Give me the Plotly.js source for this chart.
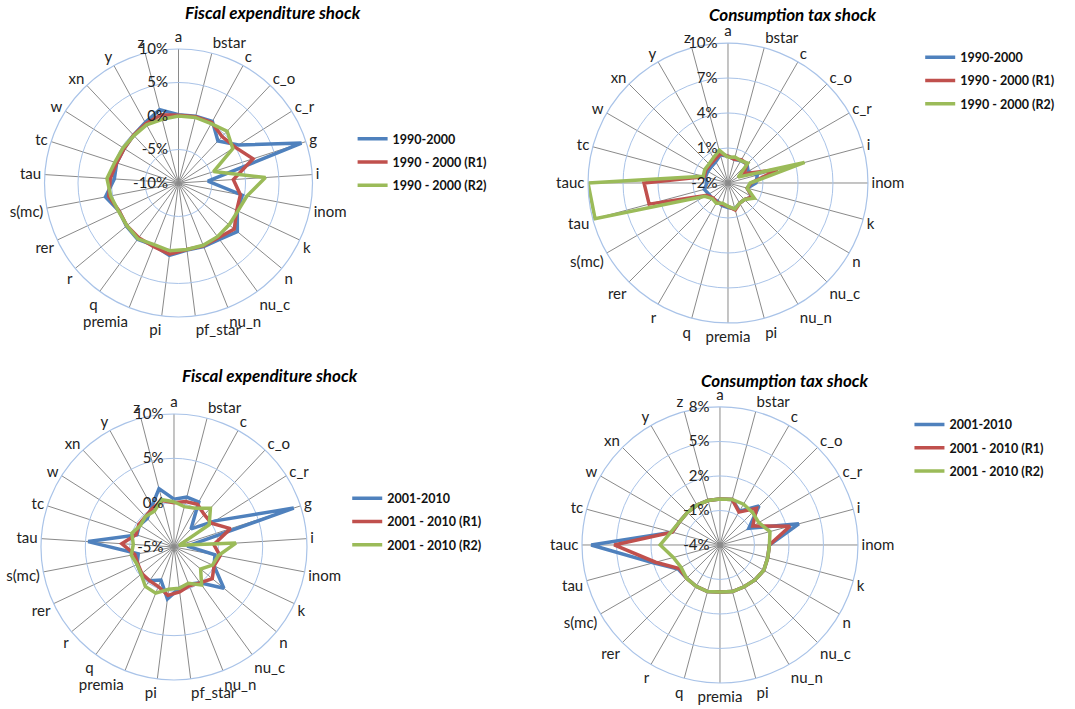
<!DOCTYPE html>
<html><head><meta charset="utf-8">
<script src="https://cdn.plot.ly/plotly-3.0.1.min.js"></script>
<style>html,body{margin:0;padding:0;background:#fff}#chart{width:1075px;height:709px}</style>
</head><body><div id="chart"></div>
<script>
// Fiscal expenditure shock categories (25)
const catsFiscal = ["a","bstar","c","c_o","c_r","g","i","inom","k","n","nu_c","nu_n","pf_star","pi","premia","q","r","rer","s(mc)","tau","tc","w","xn","y","z"];
// Consumption tax shock categories (24)
const catsTax = ["a","bstar","c","c_o","c_r","i","inom","k","n","nu_c","nu_n","pi","premia","q","r","rer","s(mc)","tau","tauc","tc","w","xn","y","z"];

// Radial tick values (in %) for each panel
const ticksFisc90 = [-10,-5,0,5,10];
const ticksTax90  = [-2,1,4,7,10];
const ticksFisc01 = [-5,0,5,10];
const ticksTax01  = [-4,-1,2,5,8];

// Panel 1: Fiscal expenditure shock, 1990-2000 (values in %)
const fisc90_base = [0.2,0.3,0.5,-1.4,0.6,9.3,-5.6,-0.3,-0.3,1.4,0.4,0.2,0.1,0.9,0.0,0.4,0.1,-0.2,1.1,-0.4,-0.3,-0.4,-0.2,0.3,1.3];
const fisc90_r1   = [0.1,0.2,0.3,-0.5,0.0,1.7,-1.8,-0.6,-0.4,0.8,0.1,0.1,0.0,0.7,0.2,0.1,0.0,-0.2,0.6,0.2,-0.3,-0.4,-0.2,0.1,0.5];
const fisc90_r2   = [0.0,0.1,0.1,0.6,-0.4,-4.5,3.0,0.4,-0.2,-0.2,-0.1,0.0,0.0,0.2,-0.1,0.3,0.0,-0.1,0.3,0.7,0.0,-0.2,-0.3,-0.1,-0.2];

// Panel 2: Consumption tax shock, 1990-2000
const tax90_base = [0.3,0.1,0.2,0.3,0.0,0.6,0.4,-0.3,0.4,0.0,0.0,0.3,0.1,0.0,-0.2,-0.1,-0.1,0.1,-0.2,0.0,0.0,0.0,0.1,0.5];
const tax90_r1   = [0.3,0.1,0.3,0.3,-0.4,2.4,0.0,-0.3,0.4,0.0,0.0,0.4,0.0,-0.1,-0.1,-0.2,0.1,5.0,5.2,0.1,0.2,0.2,0.3,0.6];
const tax90_r2   = [0.2,0.3,0.2,0.4,-1.0,4.8,-0.1,-0.3,0.6,0.0,0.0,0.3,0.0,-0.2,0.0,-0.1,0.3,9.8,10.0,0.2,0.3,0.3,0.5,0.9];

// Panel 3: Fiscal expenditure shock, 2001-2010
const fisc01_base = [0.4,0.8,0.8,-2.2,0.5,9.2,-3.5,-0.3,0.0,2.3,0.0,-0.5,-0.3,0.9,-1.0,-0.3,-0.2,-0.4,-0.9,4.7,-0.6,-0.4,-0.6,0.2,1.8];
const fisc01_r1   = [0.0,0.3,0.5,0.0,0.0,1.7,-0.5,0.3,0.0,0.6,0.0,-0.3,0.1,0.5,-0.2,-0.3,-0.3,-0.5,-0.5,0.9,-0.5,-0.3,-0.3,0.0,0.4];
const fisc01_r2   = [0.1,-0.3,0.0,1.0,-0.3,-4.4,2.0,0.1,-0.2,-1.1,0.3,-0.6,-0.3,-0.2,0.6,0.5,-0.2,-0.4,-0.1,-0.4,0.0,-0.5,-0.3,-0.4,0.5];

// Panel 4: Consumption tax shock, 2001-2010
const tax01_base = [0.0,0.1,-0.6,0.8,-1.1,3.1,0.3,0.3,0.4,0.3,0.2,0.2,0.1,0.2,0.15,0.1,0.2,2.0,7.2,0.3,0.05,0.0,0.0,0.0];
const tax01_r1   = [0.0,0.1,-0.7,0.5,-0.7,2.3,0.3,0.3,0.4,0.3,0.2,0.2,0.1,0.2,0.15,0.1,0.1,1.8,5.2,0.3,0.05,0.0,0.0,0.0];
const tax01_r2   = [0.0,0.1,0.1,0.0,-0.1,0.5,0.3,0.3,0.4,0.3,0.2,0.2,0.1,0.2,0.15,0.1,-0.1,0.2,1.2,0.4,0.05,0.0,0.0,0.0];

const names90 = ["1990-2000","1990 - 2000 (R1)","1990 - 2000 (R2)"];
const names01 = ["2001-2010","2001 - 2010 (R1)","2001 - 2010 (R2)"];
const colors = ["#4F81BD","#C0504D","#9BBB59"];

function closed(a){ return a.concat([a[0]]); }

const traces = [];
function addPanel(cats, series, names, polar, legend){
  series.forEach((s,i)=>{
    traces.push({
      type:"scatterpolar", mode:"lines",
      r: closed(s), theta: closed(cats),
      name: "<b>"+names[i]+"</b>",
      line:{color:colors[i], width:3.5},
      subplot: polar, legend: legend, legendgroup: polar+i,
      hoverinfo:"skip"
    });
  });
}
addPanel(catsFiscal,[fisc90_base,fisc90_r1,fisc90_r2],names90,"polar","legend");
addPanel(catsTax,[tax90_base,tax90_r1,tax90_r2],names90,"polar2","legend2");
addPanel(catsFiscal,[fisc01_base,fisc01_r1,fisc01_r2],names01,"polar3","legend3");
addPanel(catsTax,[tax01_base,tax01_r1,tax01_r2],names01,"polar4","legend4");

const FONT = "Lato, 'Liberation Sans', sans-serif";
function polarCfg(xd, yd, ticks, cats){
  return {
    domain:{x:xd, y:yd},
    bgcolor:"#ffffff",
    radialaxis:{range:[ticks[0], ticks[ticks.length-1]], tickmode:"array", tickvals:ticks,
      ticktext:ticks.map(v=>String(v)+"%\u00a0\u00a0"), angle:90, tickangle:90,
      side:"counterclockwise", showline:false, ticks:"", gridcolor:"#A9C3E8", gridwidth:1,
      tickfont:{family:FONT, size:15, color:"#222"}},
    angularaxis:{type:"category", categoryarray:cats, direction:"clockwise", rotation:90,
      gridcolor:"#8a8a8a", gridwidth:1, showline:true, linecolor:"#A9C3E8", linewidth:1.2,
      ticks:"", tickfont:{family:FONT, size:15, color:"#222"}}
  };
}
function legendCfg(x, y){
  return {x:x, y:y, xanchor:"left", yanchor:"top", bgcolor:"rgba(0,0,0,0)",
    font:{family:FONT, size:12.5, color:"#111"}, traceorder:"grouped", tracegroupgap:4,
    itemwidth:30};
}
function title(text, x, y){
  return {text:"<b><i>"+text+"</i></b>", xref:"paper", yref:"paper", x:x, y:y,
    xanchor:"center", yanchor:"middle", showarrow:false,
    font:{family:FONT, size:17, color:"#000"}};
}

const layout = {
  width:1075, height:709, margin:{l:0,r:0,t:0,b:0},
  paper_bgcolor:"#ffffff", showlegend:true,
  polar:  polarCfg([0.0414,0.2907],[0.5529,0.9309],ticksFisc90,catsFiscal),
  polar2: polarCfg([0.5470,0.8074],[0.5444,0.9394],ticksTax90,catsTax),
  polar3: polarCfg([0.0381,0.2856],[0.0409,0.4161],ticksFisc01,catsFiscal),
  polar4: polarCfg([0.5414,0.7981],[0.0367,0.4260],ticksTax01,catsTax),
  legend:  legendCfg(0.328,0.825),
  legend2: legendCfg(0.856,0.940),
  legend3: legendCfg(0.323,0.318),
  legend4: legendCfg(0.846,0.422),
  annotations:[
    title("Fiscal expenditure shock",0.254,0.983),
    title("Consumption tax shock",0.738,0.980),
    title("Fiscal expenditure shock",0.251,0.471),
    title("Consumption tax shock",0.730,0.464)
  ]
};
Plotly.newPlot("chart", traces, layout, {staticPlot:true, displayModeBar:false});
</script></body></html>
